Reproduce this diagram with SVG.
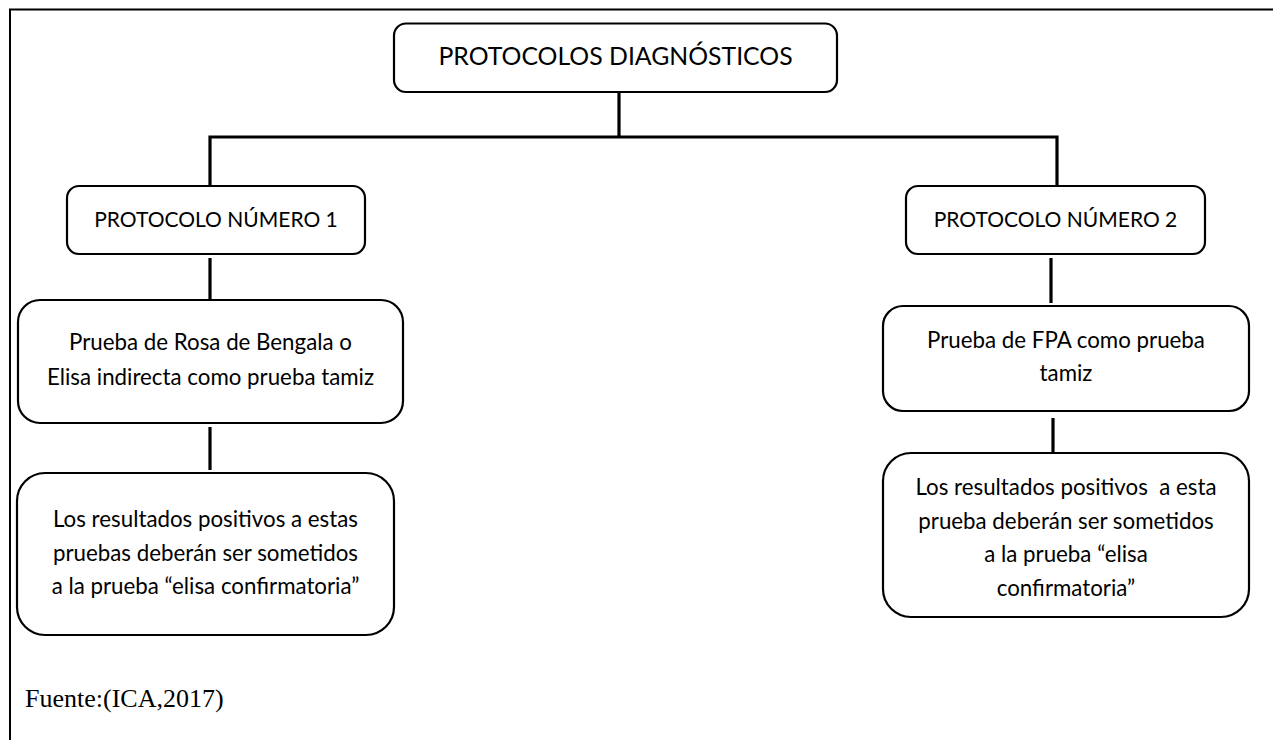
<svg xmlns="http://www.w3.org/2000/svg" width="1273" height="740" viewBox="0 0 1273 740">
<style>
.box{fill:#fff;stroke:#000;stroke-width:2.2}
.ln{stroke:#000;stroke-width:3.2;fill:none}
.t{font-family:Lato,"Open Sans",sans-serif;fill:#000;text-anchor:middle}
.big{font-size:24.8px}
.mid{font-size:21px}
.body{font-size:22.3px}
.src{font-family:"Liberation Serif","Times New Roman",serif;font-size:26px;fill:#000}
</style>
<rect width="1273" height="740" fill="#fff"/>
<g id="frame">
<path d="M10 740 V9.5 H1273" stroke="#000" stroke-width="2" fill="none"/>
</g>
<g id="connectors">
<path class="ln" d="M619 92 V137"/>
<path class="ln" d="M210 186 V137 H1057 V186"/>
<path class="ln" d="M210 258 V300"/>
<path class="ln" d="M210 427 V470"/>
<path class="ln" d="M1051 258 V303"/>
<path class="ln" d="M1053 418 V454"/>
</g>
<g id="root">
<rect class="box" x="394" y="23.5" width="443" height="68.5" rx="12"/>
<text class="t big" x="615.5" y="65">PROTOCOLOS DIAGNÓSTICOS</text>
</g>
<g id="p1">
<rect class="box" x="67" y="186" width="298" height="68" rx="12"/>
<text class="t mid" x="216" y="226.5">PROTOCOLO NÚMERO 1</text>
</g>
<g id="p2">
<rect class="box" x="906" y="186" width="299" height="68" rx="12"/>
<text class="t mid" x="1055.5" y="226.5">PROTOCOLO NÚMERO 2</text>
</g>
<g id="p1a">
<rect class="box" x="18" y="300" width="385" height="123" rx="22"/>
<text class="t body" x="210.5" y="350">Prueba de Rosa de Bengala o</text>
<text class="t body" x="210.5" y="385">Elisa indirecta como prueba tamiz</text>
</g>
<g id="p1b">
<rect class="box" x="17" y="473" width="377" height="162" rx="28"/>
<text class="t body" x="205.5" y="527">Los resultados positivos a estas</text>
<text class="t body" x="205.5" y="560.5">pruebas deberán ser sometidos</text>
<text class="t body" x="205.5" y="594">a la prueba “elisa confirmatoria”</text>
</g>
<g id="p2a">
<rect class="box" x="883" y="306" width="366" height="105" rx="20"/>
<text class="t body" x="1066" y="348">Prueba de FPA como prueba</text>
<text class="t body" x="1066" y="381">tamiz</text>
</g>
<g id="p2b">
<rect class="box" x="883" y="453" width="366" height="164" rx="28"/>
<text class="t body" x="1066" y="495" xml:space="preserve">Los resultados positivos  a esta</text>
<text class="t body" x="1066" y="528.5">prueba deberán ser sometidos</text>
<text class="t body" x="1066" y="562">a la prueba “elisa</text>
<text class="t body" x="1066" y="595.5">confirmatoria”</text>
</g>
<g id="source">
<text class="src" x="25" y="707">Fuente:(ICA,2017)</text>
</g>
</svg>
